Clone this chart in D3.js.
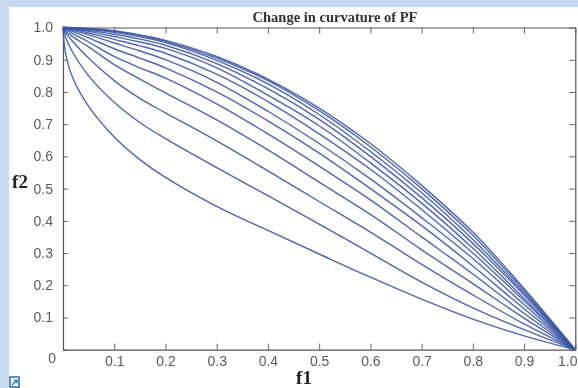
<!DOCTYPE html>
<html>
<head>
<meta charset="utf-8">
<script src="https://cdn.jsdelivr.net/npm/d3@7"></script>
<style>
    html, body { margin: 0; padding: 0; background: #fff; overflow: hidden; }
</style>
</head>
<body>
<div id="chart"></div>
<script>
// Values
const f1Values = [0, 0.005, 0.02, 0.05, 0.1, 0.15, 0.2, 0.3, 0.4, 0.5, 0.6, 0.7, 0.8, 0.9, 1];
const curve1  = [1, 0.92, 0.84, 0.755, 0.66, 0.59, 0.535, 0.445, 0.37, 0.297, 0.225, 0.157, 0.095, 0.043, 0];
const curve2  = [1, 0.97, 0.92, 0.85, 0.768, 0.705, 0.655, 0.565, 0.478, 0.39, 0.3, 0.21, 0.13, 0.062, 0];
const curve3  = [1, 0.985, 0.955, 0.905, 0.835, 0.78, 0.735, 0.648, 0.555, 0.46, 0.365, 0.265, 0.17, 0.08, 0];
const curve4  = [1, 0.99, 0.97, 0.94, 0.885, 0.84, 0.797, 0.713, 0.62, 0.52, 0.42, 0.31, 0.205, 0.098, 0];
const curve5  = [1, 0.995, 0.98, 0.955, 0.91, 0.875, 0.843, 0.763, 0.67, 0.57, 0.465, 0.35, 0.235, 0.113, 0];
const curve6  = [1, 0.997, 0.987, 0.968, 0.934, 0.905, 0.875, 0.8, 0.71, 0.61, 0.5, 0.385, 0.26, 0.127, 0];
const curve7  = [1, 0.998, 0.991, 0.977, 0.952, 0.927, 0.9, 0.83, 0.74, 0.64, 0.53, 0.41, 0.283, 0.14, 0];
const curve8  = [1, 0.999, 0.994, 0.983, 0.963, 0.943, 0.92, 0.855, 0.77, 0.67, 0.56, 0.435, 0.3, 0.152, 0];
const curve9  = [1, 0.999, 0.996, 0.988, 0.972, 0.955, 0.935, 0.875, 0.79, 0.695, 0.58, 0.455, 0.315, 0.16, 0];
const curve10 = [1, 1, 0.997, 0.991, 0.979, 0.964, 0.945, 0.888, 0.81, 0.715, 0.6, 0.472, 0.33, 0.17, 0];
const curve11 = [1, 1, 0.998, 0.994, 0.985, 0.971, 0.953, 0.898, 0.825, 0.73, 0.615, 0.487, 0.342, 0.176, 0];
const curve12 = [1, 1, 0.999, 0.996, 0.988, 0.975, 0.957, 0.905, 0.835, 0.742, 0.63, 0.5, 0.355, 0.183, 0];
const curve13 = [1, 1, 0.999, 0.997, 0.99, 0.977, 0.96, 0.91, 0.84, 0.75, 0.64, 0.51, 0.365, 0.19, 0];
const allCurves = [curve1, curve2, curve3, curve4, curve5, curve6, curve7, curve8, curve9, curve10, curve11, curve12, curve13];

const xTicks = [0.1, 0.2, 0.3, 0.4, 0.5, 0.6, 0.7, 0.8, 0.9, 1];
const yTicks = [0, 0.1, 0.2, 0.3, 0.4, 0.5, 0.6, 0.7, 0.8, 0.9, 1];

const width = 578, height = 388;
const axisColor = "#555555", labelColor = "#5c5c5c", lineColor = "#3c55a5";

const svg = d3.select("#chart")
    .append("svg")
    .attr("width", width)
    .attr("height", height)
    .style("display", "block")
    .style("filter", "blur(0.35px)");

// Slide background strips
svg.append("rect").attr("width", width).attr("height", 7).attr("fill", "#c5d6f0");
svg.append("rect").attr("width", 9).attr("height", height).attr("fill", "#ccdaf1");

const x = d3.scaleLinear().domain([0, 1]).range([63, 575.3]);
const y = d3.scaleLinear().domain([0, 1]).range([349.7, 27.5]);

const fmt = d => d === 0 ? "0" : d3.format(".1f")(d);

// Bottom axis
const xAxis = svg.append("g")
    .attr("transform", `translate(0,${y(0)})`)
    .call(d3.axisBottom(x).tickValues(xTicks).tickSize(-6).tickPadding(6).tickSizeOuter(0).tickFormat(fmt));

// Left axis
const yAxis = svg.append("g")
    .attr("transform", `translate(${x(0)},0)`)
    .call(d3.axisLeft(y).tickValues(yTicks).tickSize(-5).tickPadding(10).tickSizeOuter(0).tickFormat(fmt));

// Top and right of the box, ticks only
svg.append("g")
    .attr("transform", `translate(0,${y(1)})`)
    .call(d3.axisTop(x).tickValues(xTicks).tickSize(-6).tickSizeOuter(0).tickFormat(""));
svg.append("g")
    .attr("transform", `translate(${x(1)},0)`)
    .call(d3.axisRight(y).tickValues(yTicks).tickSize(-6).tickSizeOuter(0).tickFormat(""));

svg.selectAll(".domain").attr("stroke", axisColor).attr("stroke-width", 1.2);
svg.selectAll(".tick line").attr("stroke", axisColor).attr("stroke-width", 0.9);
svg.selectAll(".tick text")
    .attr("fill", labelColor)
    .style("font-family", "'Liberation Sans', Arial, sans-serif")
    .style("font-size", "14px");

// the 0 label sits a bit lower than its tick, the 1.0 label is pulled in from the edge
yAxis.selectAll(".tick text").filter(d => d === 0).attr("dy", "0.9em").attr("x", -7);
xAxis.selectAll(".tick text").filter(d => d === 1).attr("x", -8);

// Curves
const line = d3.line()
    .x((d, i) => x(f1Values[i]))
    .y(d => y(d))
    .curve(d3.curveCatmullRom.alpha(0.5));

svg.append("g")
    .selectAll("path")
    .data(allCurves)
    .enter()
    .append("path")
    .attr("d", line)
    .attr("fill", "none")
    .attr("stroke", lineColor)
    .attr("stroke-opacity", 0.9)
    .attr("stroke-width", 1.4);

// Titles
svg.append("text")
    .attr("x", 335)
    .attr("y", 22)
    .attr("text-anchor", "middle")
    .attr("fill", "#333")
    .style("font-family", "'Liberation Serif', serif")
    .style("font-weight", "bold")
    .style("font-size", "14.5px")
    .text("Change in curvature of PF");

svg.append("text")
    .attr("x", 304)
    .attr("y", 384)
    .attr("text-anchor", "middle")
    .attr("fill", "#222")
    .style("font-family", "'Liberation Serif', serif")
    .style("font-weight", "bold")
    .style("font-size", "19px")
    .text("f1");

svg.append("text")
    .attr("x", 20)
    .attr("y", 188)
    .attr("text-anchor", "middle")
    .attr("fill", "#222")
    .style("font-family", "'Liberation Serif', serif")
    .style("font-weight", "bold")
    .style("font-size", "19px")
    .text("f2");

// Small link icon at the bottom left
const icon = svg.append("g").attr("fill", "none").attr("stroke", "#1f6fa8");
icon.append("rect").attr("x", 10).attr("y", 377).attr("width", 9).attr("height", 10).attr("stroke-width", 1.5);
icon.append("path").attr("d", "M12 385 L17 380 M13.5 380 H17 V383.5").attr("stroke-width", 1.2);
</script>
</body>
</html>
